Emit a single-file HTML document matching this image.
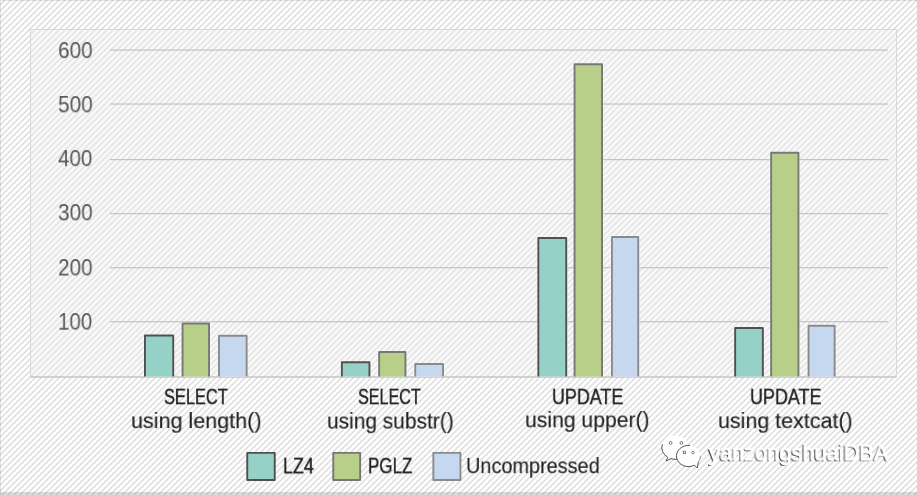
<!DOCTYPE html>
<html><head><meta charset="utf-8"><style>
html,body{margin:0;padding:0}
body{width:917px;height:495px;position:relative;overflow:hidden;font-family:'Liberation Sans', sans-serif;background-color:#fff;background-image:linear-gradient(135deg,#fff 0%,#fff 8%,#dcdcdc 25%,#fff 42%,#fff 58%,#dcdcdc 75%,#fff 92%,#fff 100%);background-size:6px 6px;background-position:2px 0}
.edge{position:absolute;background:rgba(0,0,0,.1)}
.inner{position:absolute;left:30px;top:29px;width:867px;height:348px;box-sizing:border-box;border:1px solid #d8d8d8;border-bottom:none;background-color:#f8f8f8;background-image:linear-gradient(135deg,#f9f9f9 0%,#f9f9f9 8%,#e2e2e2 25%,#f9f9f9 42%,#f9f9f9 58%,#e2e2e2 75%,#f9f9f9 92%,#f9f9f9 100%);background-size:6px 6px;background-position:1px 0}
svg{position:absolute;left:0;top:0}
.t,.wm{position:absolute;white-space:nowrap;font-size:23px;line-height:1;transform-origin:0 0;will-change:transform}
.b{-webkit-text-stroke:0.45px currentColor}.c{-webkit-text-stroke:0.15px currentColor}
.wm{color:#fff;-webkit-text-stroke:0.9px #fff;text-shadow:-1.4px 1.1px 0 #3c3c3c}
</style></head><body>
<div class="edge" style="left:0;top:0;width:917px;height:1px"></div>
<div class="edge" style="left:0;top:1px;width:1px;height:494px"></div>
<div class="edge" style="left:0;top:492px;width:917px;height:3px;background:rgba(0,0,0,.13)"></div>
<div class="inner"></div>
<svg width="917" height="495" viewBox="0 0 917 495"><rect x="110" y="49.46" width="778" height="1.2" fill="#c3c3c3"/><rect x="110" y="103.46" width="778" height="1.2" fill="#c3c3c3"/><rect x="110" y="159.00" width="778" height="1.2" fill="#c3c3c3"/><rect x="110" y="213.07" width="778" height="1.2" fill="#c3c3c3"/><rect x="110" y="267.10" width="778" height="1.2" fill="#c3c3c3"/><rect x="110" y="321.10" width="778" height="1.2" fill="#c3c3c3"/><rect x="30.5" y="376.30" width="866" height="1.4" fill="#c2c2c2"/><rect x="143.20" y="333.70" width="31.80" height="43.30" fill="#fff" fill-opacity=".3"/><path d="M144.95 376.50V335.45H173.25V376.50" fill="#95d1c6" stroke="#505050" stroke-width="1.9" stroke-linejoin="round"/><rect x="180.80" y="321.70" width="30.00" height="55.30" fill="#fff" fill-opacity=".3"/><path d="M182.55 376.50V323.45H209.05V376.50" fill="#b8cf8a" stroke="#777777" stroke-width="1.9" stroke-linejoin="round"/><rect x="217.20" y="334.00" width="31.20" height="43.00" fill="#fff" fill-opacity=".3"/><path d="M218.95 376.50V335.75H246.65V376.50" fill="#c6d8f0" stroke="#8a8a8a" stroke-width="1.9" stroke-linejoin="round"/><rect x="340.10" y="360.50" width="31.10" height="16.50" fill="#fff" fill-opacity=".3"/><path d="M341.85 376.50V362.25H369.45V376.50" fill="#95d1c6" stroke="#505050" stroke-width="1.9" stroke-linejoin="round"/><rect x="377.40" y="350.30" width="29.80" height="26.70" fill="#fff" fill-opacity=".3"/><path d="M379.15 376.50V352.05H405.45V376.50" fill="#b8cf8a" stroke="#777777" stroke-width="1.9" stroke-linejoin="round"/><rect x="413.50" y="362.30" width="31.30" height="14.70" fill="#fff" fill-opacity=".3"/><path d="M415.25 376.50V364.05H443.05V376.50" fill="#c6d8f0" stroke="#8a8a8a" stroke-width="1.9" stroke-linejoin="round"/><rect x="536.60" y="236.30" width="31.40" height="140.70" fill="#fff" fill-opacity=".3"/><path d="M538.35 376.50V238.05H566.25V376.50" fill="#95d1c6" stroke="#505050" stroke-width="1.9" stroke-linejoin="round"/><rect x="572.80" y="62.50" width="31.00" height="314.50" fill="#fff" fill-opacity=".3"/><path d="M574.55 376.50V64.25H602.05V376.50" fill="#b8cf8a" stroke="#777777" stroke-width="1.9" stroke-linejoin="round"/><rect x="610.20" y="235.30" width="29.80" height="141.70" fill="#fff" fill-opacity=".3"/><path d="M611.95 376.50V237.05H638.25V376.50" fill="#c6d8f0" stroke="#8a8a8a" stroke-width="1.9" stroke-linejoin="round"/><rect x="733.40" y="326.20" width="31.20" height="50.80" fill="#fff" fill-opacity=".3"/><path d="M735.15 376.50V327.95H762.85V376.50" fill="#95d1c6" stroke="#505050" stroke-width="1.9" stroke-linejoin="round"/><rect x="769.40" y="151.00" width="30.80" height="226.00" fill="#fff" fill-opacity=".3"/><path d="M771.15 376.50V152.75H798.45V376.50" fill="#b8cf8a" stroke="#777777" stroke-width="1.9" stroke-linejoin="round"/><rect x="806.80" y="324.00" width="29.60" height="53.00" fill="#fff" fill-opacity=".3"/><path d="M808.55 376.50V325.75H834.65V376.50" fill="#c6d8f0" stroke="#8a8a8a" stroke-width="1.9" stroke-linejoin="round"/><rect x="247.25" y="452.85" width="27.50" height="27.10" fill="#95d1c6" stroke="#505050" stroke-width="1.9" stroke-linejoin="round"/><rect x="333.25" y="452.85" width="26.90" height="27.10" fill="#b8cf8a" stroke="#777777" stroke-width="1.9" stroke-linejoin="round"/><rect x="433.35" y="452.85" width="27.10" height="27.10" fill="#c6d8f0" stroke="#8a8a8a" stroke-width="1.9" stroke-linejoin="round"/>
<path d="M671.0 458.6 A13.6 11.8 0 1 0 667.8 457.3 L666.0 461.0 Z" fill="#fff" fill-opacity=".96"/>
<path d="M662.3 444.2 A13.6 11.8 0 0 0 667.8 457.3 L666.0 461.0 L671.0 458.6 A13.6 11.8 0 0 0 677.0 459.4" fill="none" stroke="#555" stroke-width="1"/>
<circle cx="670.6" cy="442.9" r="1.4" fill="#fff" stroke="#666" stroke-width=".9"/>
<circle cx="681.4" cy="442.9" r="1.4" fill="#fff" stroke="#666" stroke-width=".9"/>
<path d="M698.3 462.1 A12 10.6 0 1 0 694.5 465.2 L697.3 468.0 Z" fill="#fff" fill-opacity=".97"/>
<path d="M690.0 445.5 A12 10.6 0 1 0 694.5 465.2 L697.3 468.0 L698.3 462.1" fill="none" stroke="#555" stroke-width="1"/>
<path d="M698.3 462.1 A12 10.6 0 0 0 700.5 456.0" fill="none" stroke="#888" stroke-width=".9"/>
<rect x="683.3" y="451.2" width="2.2" height="2.4" fill="#fff" stroke="#666" stroke-width=".8"/>
<circle cx="693.0" cy="452.5" r="1.3" fill="#fff" stroke="#666" stroke-width=".8"/>
</svg>
<span class="t" style="left:58.05px;top:40.00px;color:#575757;transform:scale(0.9045,0.9539)">600</span><span class="t" style="left:57.95px;top:93.72px;color:#575757;transform:scale(0.9073,0.9655)">500</span><span class="t" style="left:58.49px;top:147.97px;color:#575757;transform:scale(0.8966,0.9551)">400</span><span class="t" style="left:58.00px;top:201.64px;color:#575757;transform:scale(0.9062,0.9667)">300</span><span class="t" style="left:58.10px;top:256.91px;color:#575757;transform:scale(0.9033,0.9736)">200</span><span class="t" style="left:58.22px;top:311.27px;color:#575757;transform:scale(0.8950,0.9819)">100</span><span class="t b" style="left:164.23px;top:386.64px;color:#242424;transform:scale(0.7124,0.9024)">SELECT</span><span class="t c" style="left:131.13px;top:410.54px;color:#242424;transform:scale(0.9367,0.9024)">using length()</span><span class="t b" style="left:358.06px;top:386.64px;color:#242424;transform:scale(0.7011,0.9024)">SELECT</span><span class="t c" style="left:326.65px;top:410.55px;color:#242424;transform:scale(0.9092,0.9220)">using substr()</span><span class="t b" style="left:552.31px;top:386.64px;color:#242424;transform:scale(0.7781,0.9024)">UPDATE</span><span class="t c" style="left:524.80px;top:410.36px;color:#242424;transform:scale(0.9194,0.9075)">using upper()</span><span class="t b" style="left:750.31px;top:386.64px;color:#242424;transform:scale(0.7802,0.9024)">UPDATE</span><span class="t c" style="left:718.14px;top:410.54px;color:#242424;transform:scale(0.9322,0.9024)">using textcat()</span><span class="t b" style="left:283.14px;top:456.10px;color:#242424;transform:scale(0.7809,0.9098)">LZ4</span><span class="t b" style="left:367.85px;top:455.75px;color:#242424;transform:scale(0.7380,0.9049)">PGLZ</span><span class="t c" style="left:465.65px;top:455.67px;color:#242424;transform:scale(0.8644,0.9049)">Uncompressed</span><span class="wm" style="left:709.43px;top:443.25px;color:#fff;transform:scale(0.9472,0.9173)">yanzongshuaiDBA</span>
</body></html>
